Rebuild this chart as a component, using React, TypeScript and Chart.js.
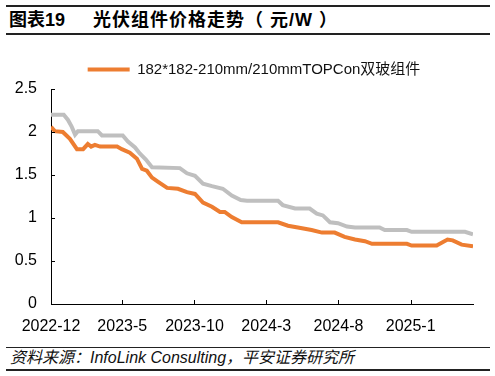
import React, { useEffect, useRef } from 'react';
import { Chart, registerables } from 'chart.js';

Chart.register(...registerables);

const FONT = '"Liberation Sans", Arial, "Noto Sans CJK SC", sans-serif';

const titleNo = '图表19';
const titleText = '光伏组件价格走势（ 元/W ）';
const sourceText = '资料来源：InfoLink Consulting，平安证券研究所';

const seriesName = '182*182-210mm/210mmTOPCon双玻组件';

const orangeDates = [
  '2022-12-01', '2022-12-09', '2022-12-26', '2023-01-10', '2023-01-25', '2023-02-07',
  '2023-02-17', '2023-02-24', '2023-03-04', '2023-03-15', '2023-04-20', '2023-04-30',
  '2023-05-17', '2023-06-01', '2023-06-12', '2023-06-22', '2023-07-03', '2023-07-16',
  '2023-08-04', '2023-08-27', '2023-09-15', '2023-10-02', '2023-10-19', '2023-11-07',
  '2023-11-24', '2023-12-04', '2023-12-19', '2024-01-09', '2024-03-26', '2024-04-16',
  '2024-05-07', '2024-06-05', '2024-06-27', '2024-07-24', '2024-08-14', '2024-09-05',
  '2024-09-26', '2024-10-11', '2024-12-24', '2025-01-03', '2025-02-25', '2025-03-20',
  '2025-03-31', '2025-04-19', '2025-05-13',
];
const orangeValues = [
  2.06, 2.01, 2.0, 1.92, 1.8, 1.8,
  1.86, 1.83, 1.85, 1.83, 1.83, 1.8,
  1.76, 1.69, 1.57, 1.55, 1.47, 1.42,
  1.35, 1.34, 1.3, 1.28, 1.18, 1.13,
  1.07, 1.07, 1.01, 0.95, 0.95, 0.91,
  0.89, 0.86, 0.83, 0.83, 0.78, 0.75,
  0.73, 0.7, 0.7, 0.68, 0.68, 0.75,
  0.74, 0.69, 0.67,
];

const greyDates = [
  '2022-12-01', '2022-12-28', '2023-01-06', '2023-01-14', '2023-01-21', '2023-01-27',
  '2023-03-10', '2023-03-19', '2023-05-02', '2023-05-13', '2023-05-28', '2023-06-07',
  '2023-06-20', '2023-07-03', '2023-08-31', '2023-09-15', '2023-10-02', '2023-10-19',
  '2023-11-07', '2023-11-30', '2023-12-19', '2024-01-07', '2024-01-20', '2024-03-26',
  '2024-04-05', '2024-05-01', '2024-06-01', '2024-06-16', '2024-06-29', '2024-07-14',
  '2024-07-31', '2024-08-19', '2024-09-05', '2024-10-27', '2024-11-07', '2024-12-24',
  '2025-01-03', '2025-04-26', '2025-05-13',
];
const greyValues = [
  2.2, 2.2, 2.14, 2.06, 1.97, 2.01,
  2.01, 1.96, 1.96, 1.89, 1.82, 1.75,
  1.68, 1.59, 1.58, 1.52, 1.49, 1.4,
  1.37, 1.34, 1.26, 1.21, 1.2, 1.2,
  1.15, 1.11, 1.11, 1.05, 1.03, 0.95,
  0.94, 0.9, 0.89, 0.89, 0.86, 0.86,
  0.84, 0.84, 0.81,
];

const xTickLabels = ['2022-12', '2023-5', '2023-10', '2024-3', '2024-8', '2025-1'];
const yTickValues = [0, 0.5, 1, 1.5, 2, 2.5];

const ORIGIN = Date.UTC(2022, 11, 1);
function dayOf(s: string): number {
  const parts = s.split('-');
  const y = Number(parts[0]);
  const m = Number(parts[1]);
  const d = parts[2] ? Number(parts[2]) : 1;
  return (Date.UTC(y, m - 1, d) - ORIGIN) / 86400000;
}

const innerTicks = {
  id: 'innerTicks',
  afterDraw(chart: any) {
    const { ctx, chartArea } = chart;
    const xs = chart.scales.x;
    const ys = chart.scales.y;
    ctx.save();
    ctx.strokeStyle = '#000';
    ctx.lineWidth = 1;
    ctx.beginPath();
    xs.ticks.forEach((t: any) => {
      const px = Math.round(xs.getPixelForValue(t.value)) + 0.5;
      ctx.moveTo(px, chartArea.bottom);
      ctx.lineTo(px, chartArea.bottom - 4);
    });
    ys.ticks.forEach((t: any) => {
      const py = Math.round(ys.getPixelForValue(t.value)) + 0.5;
      ctx.moveTo(chartArea.left, py);
      ctx.lineTo(chartArea.left + 4, py);
    });
    ctx.stroke();
    ctx.restore();
  },
};

const legendShift = {
  id: 'legendShift',
  afterLayout(chart: any) {
    const lg = chart.legend;
    if (lg) {
      lg.left += 13.5;
      lg.right += 13.5;
    }
  },
};

export default function App() {
  const ref = useRef<HTMLCanvasElement>(null);

  useEffect(() => {
    if (!ref.current) return;
    const lastDay = dayOf(orangeDates[orangeDates.length - 1]);
    const chart = new Chart(ref.current, {
      type: 'line',
      data: {
        datasets: [
          {
            label: seriesName,
            data: orangeDates.map((d, i) => ({ x: dayOf(d), y: orangeValues[i] })),
            borderColor: '#ED7D31',
            backgroundColor: '#ED7D31',
            borderWidth: 4,
            pointRadius: 0,
            tension: 0,
            fill: false,
          },
          {
            label: '',
            data: greyDates.map((d, i) => ({ x: dayOf(d), y: greyValues[i] })),
            borderColor: '#BFBFBF',
            backgroundColor: '#BFBFBF',
            borderWidth: 4,
            pointRadius: 0,
            tension: 0,
            fill: false,
          },
        ],
      },
      options: {
        responsive: false,
        animation: false,
        layout: { padding: { left: 8, right: 22, top: 12, bottom: 0 } },
        plugins: {
          legend: {
            display: true,
            position: 'top',
            labels: {
              usePointStyle: true,
              pointStyle: 'line',
              pointStyleWidth: 42,
              padding: 10,
              color: '#111',
              font: { family: FONT, size: 15 },
              filter: (item: any) => item.text !== '',
            },
          },
          subtitle: {
            display: true,
            text: '',
            position: 'top',
            weight: 500,
            padding: { top: 0, bottom: 0 },
            font: { size: 2, lineHeight: 1 },
          },
          title: { display: false },
          tooltip: { enabled: false },
        },
        scales: {
          x: {
            type: 'linear',
            min: 0,
            max: lastDay,
            grid: { display: false },
            border: { display: true, color: '#000', width: 1 },
            afterBuildTicks: (s: any) => {
              s.ticks = xTickLabels.map((l) => ({ value: dayOf(l) }));
            },
            afterFit: (s: any) => {
              s.height = 41;
            },
            ticks: {
              autoSkip: false,
              maxRotation: 0,
              minRotation: 0,
              padding: 5,
              color: '#000',
              font: { family: FONT, size: 16 },
              callback: (_v: any, i: number) => xTickLabels[i],
            },
          },
          y: {
            type: 'linear',
            min: 0,
            max: 2.5,
            grid: { display: false },
            border: { display: true, color: '#000', width: 1 },
            afterBuildTicks: (s: any) => {
              s.ticks = yTickValues.map((v) => ({ value: v }));
            },
            afterFit: (s: any) => {
              s.width = 43;
            },
            ticks: {
              padding: 6,
              color: '#000',
              font: { family: FONT, size: 16 },
              callback: (v: any) => String(v),
            },
          },
        },
      } as any,
      plugins: [innerTicks, legendShift],
    });
    return () => chart.destroy();
  }, []);

  const titleStyle: React.CSSProperties = {
    position: 'absolute',
    top: 9,
    height: 22,
    lineHeight: '22px',
    fontSize: 18,
    fontWeight: 'bold',
    color: '#000',
    whiteSpace: 'nowrap',
  };

  return (
    <div
      style={{
        position: 'absolute',
        left: 0,
        top: 0,
        width: 495,
        height: 376,
        background: '#fff',
        fontFamily: FONT,
        overflow: 'hidden',
      }}
    >
      <div style={{ position: 'absolute', left: 6, top: 5, width: 484, height: 1.5, background: '#222' }} />
      <div style={{ ...titleStyle, left: 9 }}>{titleNo}</div>
      <div style={{ ...titleStyle, left: 93, letterSpacing: 1 }}>{titleText}</div>
      <div style={{ position: 'absolute', left: 6, top: 33, width: 484, height: 2, background: '#222' }} />
      <canvas
        ref={ref}
        width={495}
        height={305}
        style={{ position: 'absolute', left: 0, top: 40, width: 495, height: 305 }}
      />
      <div style={{ position: 'absolute', left: 6, top: 346.5, width: 484, height: 1.5, background: '#222' }} />
      <div
        style={{
          position: 'absolute',
          left: 10,
          top: 348,
          height: 20,
          lineHeight: '20px',
          fontSize: 16,
          fontStyle: 'italic',
          color: '#111',
          whiteSpace: 'nowrap',
        }}
      >
        {sourceText}
      </div>
      <div style={{ position: 'absolute', left: 6, top: 369, width: 484, height: 1.5, background: '#222' }} />
    </div>
  );
}
